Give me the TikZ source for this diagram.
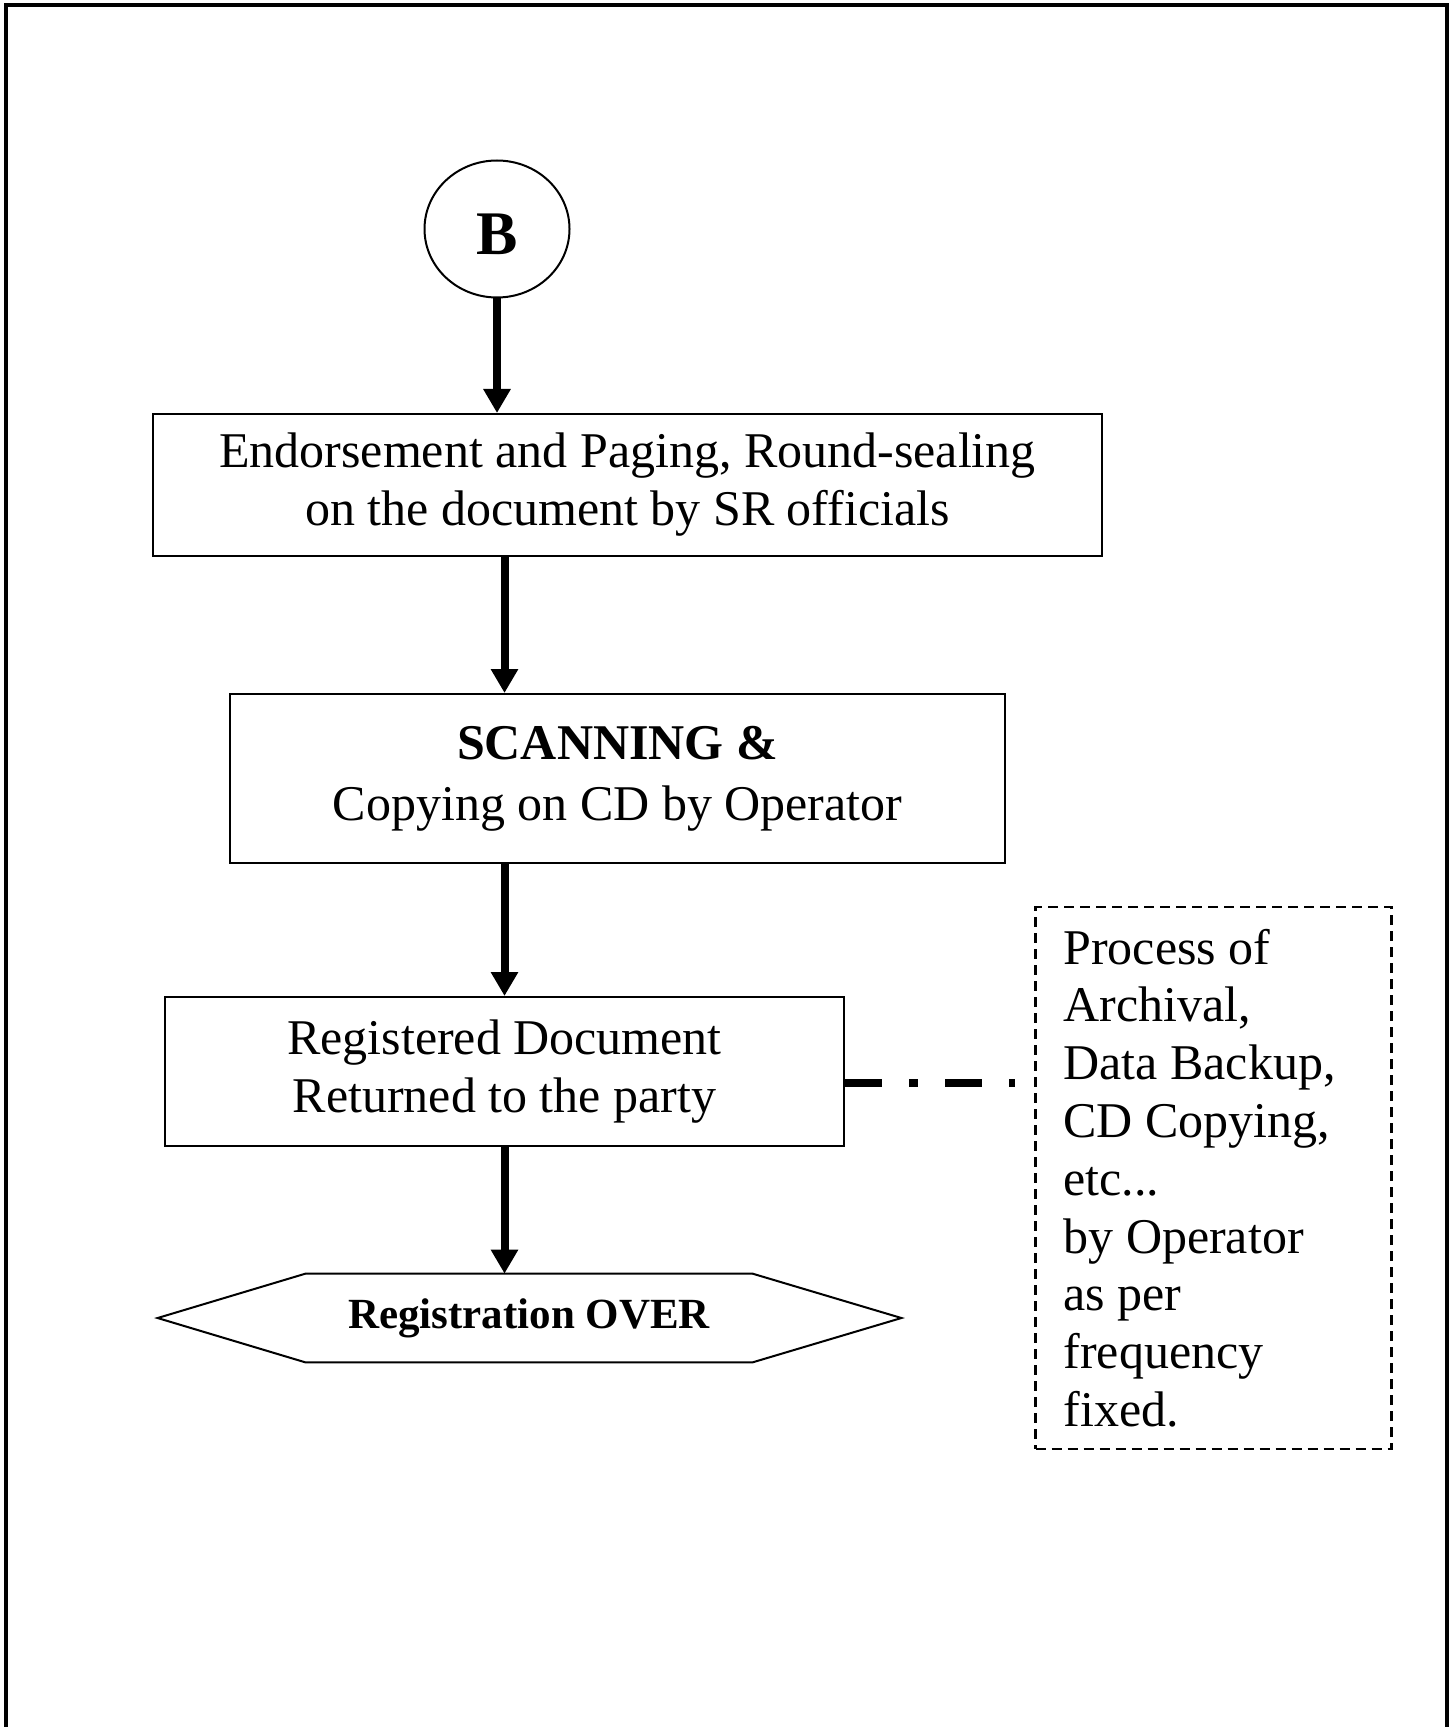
\documentclass[tikz,border=0pt]{standalone}
\usepackage{fontspec}
\setmainfont{Liberation Serif}
\usetikzlibrary{arrows.meta,shapes.geometric}

\begin{document}
\begin{tikzpicture}[x=0.5pt, y=-0.5pt,
      block/.style={rectangle, draw, line width=1pt, align=center, inner sep=0pt, font=\fontsize{25}{29}\selectfont},
      connector/.style={ellipse, draw, line width=1pt, minimum width=72.5pt, minimum height=68.5pt, inner sep=0pt, text height=26pt, text depth=0pt, font=\fontsize{31}{36}\selectfont\bfseries},
      terminal/.style={rectangle, minimum width=223pt, minimum height=44pt, inner sep=0pt, font=\fontsize{21.5}{26}\selectfont\bfseries},
      note/.style={rectangle, draw, dash pattern=on 5pt off 3pt, line width=1.2pt, align=flush left, text width=150pt, minimum height=271pt, inner xsep=14pt, font=\fontsize{25}{28.9}\selectfont},
      line/.style={draw, line width=4pt, -{Triangle[length=12pt, width=13pt]}},
      link/.style={draw, line width=4pt, dash pattern=on 18.5pt off 13.5pt on 4.5pt off 13.5pt}]

      \useasboundingbox (0,0) rectangle (1452,1727);
      % Frame
      \draw [line width=2pt] (6,1727) -- (6,5) -- (1447,5) -- (1447,1727);

      % Nodes
      \node [connector] (B) at (497,229) {B};
      \node [block, minimum width=474.5pt, minimum height=71pt] (endorse) at (627.5,485) {Endorsement and Paging, Round-sealing\\on the document by SR officials};
      \node [block, minimum width=387.5pt, minimum height=84.5pt, font=\fontsize{25}{30.5}\selectfont] (scan) at (617.5,778.5) {\textbf{SCANNING \&}\\Copying on CD by Operator};
      \node [block, minimum width=339.5pt, minimum height=74.5pt] (regd) at (504.5,1071.5) {Registered Document\\Returned to the party};
      \node [terminal] (over) at (529,1318) {Registration OVER};
      \node [note] (archive) at (1213.5,1178) {Process of\\Archival,\\Data Backup,\\CD Copying,\\etc...\\by Operator\\as per\\frequency\\fixed.};
      \coordinate (linkend) at (1015,1083);

      % Terminal outline
      \draw [line width=1pt] (over.north west) -- (over.north east) -- ([xshift=74.5pt]over.east) -- (over.south east) -- (over.south west) -- ([xshift=-74pt]over.west) -- cycle;

      % Edges
      \path [line] (B) -- (B |- endorse.north);
      \path [line] (regd |- endorse.south) -- (regd |- scan.north);
      \path [line] (regd |- scan.south) -- (regd.north);
      \path [line] (regd.south) -- (regd.south |- over.north);
      \path [link] (regd.east |- linkend) -- (linkend);

    \end{tikzpicture}
\end{document}
